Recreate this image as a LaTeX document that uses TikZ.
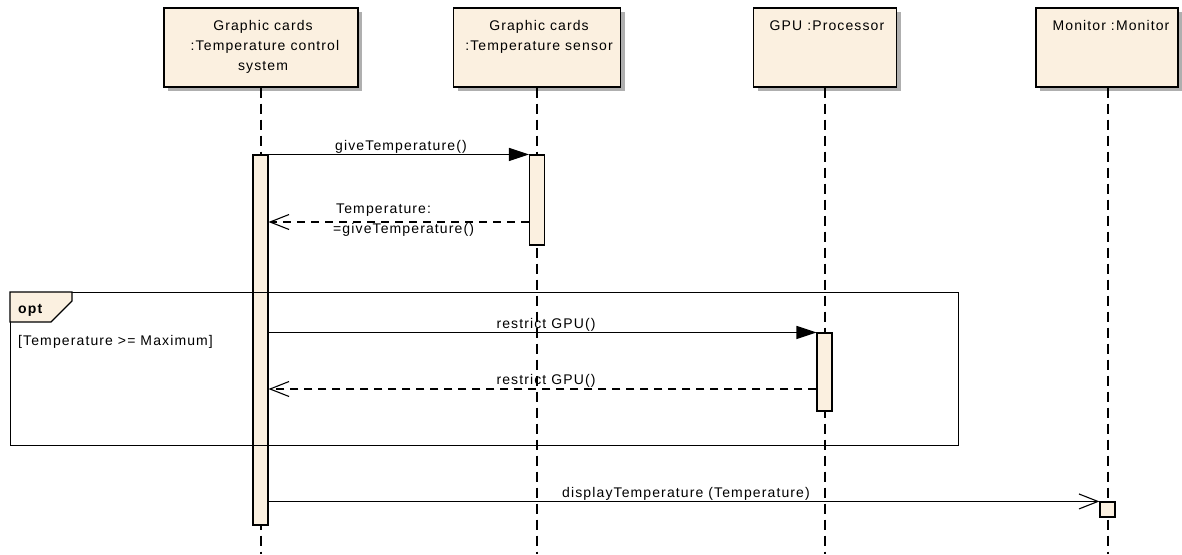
\documentclass[tikz,border=0pt]{standalone}
\usepackage{fontspec}
\setmainfont[LetterSpace=8]{Liberation Sans}
\usetikzlibrary{arrows.meta,shadows}
\definecolor{cream}{RGB}{251,240,224}
\definecolor{shadowgray}{RGB}{175,175,175}
\begin{document}
\begin{tikzpicture}[x=1pt,y=-1pt,font=\fontsize{14}{20}\selectfont,
  objbox/.style={draw, fill=cream, line width=1.2pt, inner sep=0pt, minimum height=79pt,
     drop shadow={shadow xshift=4pt, shadow yshift=-4pt, fill=shadowgray, opacity=1}},
  lifeline/.style={line width=1.1pt, dash pattern=on 10pt off 6pt},
  actbar/.style={draw, fill=cream, line width=1.1pt, inner sep=0pt, minimum width=15pt},
  msg/.style={line width=1.1pt},
  callarrow/.style={msg, -{Triangle[length=20pt,width=13pt]}},
  asyncarrow/.style={msg, -{Straight Barb[length=19pt,width=15pt,line width=1.1pt]}},
  retarrow/.style={line width=1.1pt, dash pattern=on 8pt off 6pt, -{Straight Barb[length=19pt,width=15pt,line width=1.1pt]}},
  txt/.style={anchor=base, inner sep=0pt},
  txtl/.style={anchor=base west, inner sep=0pt},
  fragframe/.style={draw, line width=1.4pt, inner sep=0pt}]
\useasboundingbox (0,0) rectangle (1182,554);

% lifeline heads
\node[objbox, minimum width=194pt] (b1) at (261,47.5) {};
\node[objbox, minimum width=167pt] (b2) at (537,47.5) {};
\node[objbox, minimum width=143pt] (b3) at (825,47.5) {};
\node[objbox, minimum width=142pt] (b4) at (1107,47.5) {};

\node[txt] (t1a) at (263,30) {Graphic cards};
\node[txt] (t1b) at (265,50) {:Temperature control};
\node[txt] (t1c) at (263,70) {system};
\node[txt] (t2a) at (539,30) {Graphic cards};
\node[txt] (t2b) at (539,50) {:Temperature sensor};
\node[txt] (t3a) at (827,30) {GPU :Processor};
\node[txt] (t4a) at (1111,30) {Monitor :Monitor};

% lifelines
\coordinate (e1) at (261,554);
\coordinate (e2) at (537,554);
\coordinate (e3) at (825,554);
\coordinate (e4) at (1108,554);
\draw[lifeline] (b1.south) -- (e1);
\draw[lifeline] (b2.south) -- (e2);
\draw[lifeline] (b3.south) -- (e3);
\draw[lifeline] (b4.south -| e4) -- (e4);

% activation bars
\node[actbar, minimum height=370pt] (a1) at (260.5,340) {};
\node[actbar, minimum height=90pt] (a2) at (537,200) {};
\node[actbar, minimum height=78pt] (a3) at (824.5,372) {};
\node[actbar, minimum height=15pt] (a4) at (1107.5,509.5) {};

% opt fragment
\node[fragframe, minimum width=948pt, minimum height=153pt, anchor=north west] (opt) at (10,292) {};
\filldraw[fill=cream, line width=1.2pt] (opt.north west) -- ++(62,0) -- ++(0,9) -- ++(-21,21) -- ++(-41,0) -- cycle;
\node[txtl, font=\fontsize{14}{20}\selectfont\bfseries] (optl) at (18,313) {opt};
\node[txtl] (guard) at (18,345) {[Temperature >= Maximum]};

% messages
\draw[callarrow] (a1.north east) -- (a2.north west);
\node[txt] (l1) at (401,150) {giveTemperature()};

\coordinate (y2) at (0,222);
\draw[retarrow] (a2.west |- y2) -- (a1.east |- y2);
\node[txtl] (l2a) at (336,213) {Temperature:};
\node[txtl, fill=white] (l2b) at (333,233) {=giveTemperature()};

\draw[callarrow] (a1.east |- a3.north) -- (a3.north west);
\node[txt] (l3) at (546,328) {restrict GPU()};

\coordinate (y4) at (0,389);
\draw[retarrow] (a3.west |- y4) -- (a1.east |- y4);
\node[txt] (l4) at (546,384) {restrict GPU()};

\draw[asyncarrow] (a1.east |- a4.north) -- (a4.north west);
\node[txt] (l5) at (686,497) {displayTemperature (Temperature)};
\end{tikzpicture}
\end{document}
